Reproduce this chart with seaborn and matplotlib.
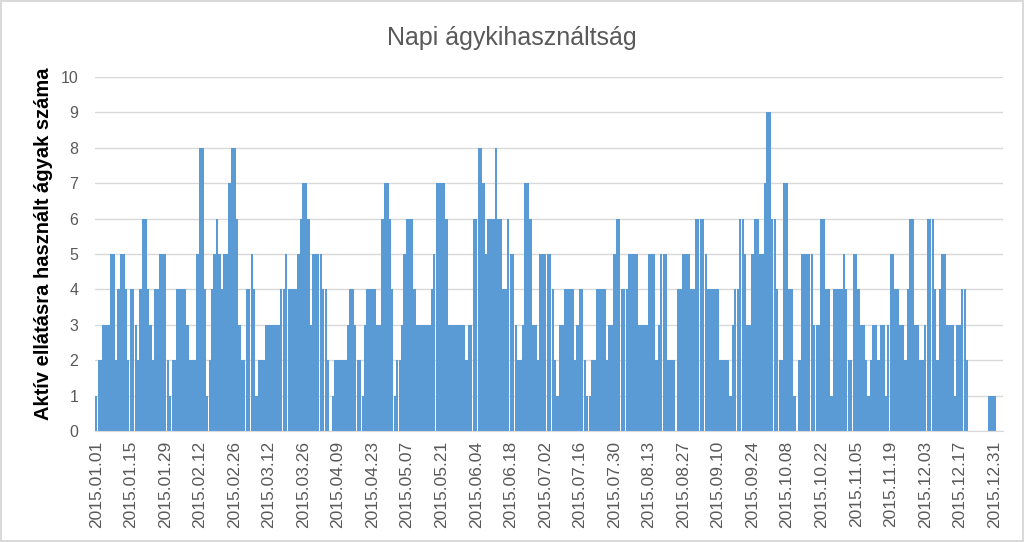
import numpy as np
import pandas as pd
import matplotlib
matplotlib.use("Agg")
import matplotlib.pyplot as plt
import seaborn as sns

# daily number of beds in active care, 2015
jan = [1, 2, 2, 3, 3, 3, 5, 5, 2, 4, 5, 5, 4, 2, 4, 4, 3, 2, 4, 6, 6, 4, 3, 2, 4, 4, 5, 5, 5, 2, 1]
feb = [2, 2, 4, 4, 4, 4, 3, 2, 2, 2, 5, 8, 8, 4, 1, 2, 4, 5, 6, 5, 4, 5, 5, 7, 8, 8, 6, 3]
mar = [2, 2, 4, 4, 5, 4, 1, 2, 2, 2, 3, 3, 3, 3, 3, 3, 4, 4, 5, 4, 4, 4, 4, 5, 6, 7, 7, 6, 3, 5, 5]
apr = [5, 5, 4, 4, 2, 0, 1, 2, 2, 2, 2, 2, 3, 4, 4, 3, 2, 2, 1, 3, 4, 4, 4, 4, 3, 3, 6, 7, 7, 6]
may = [4, 1, 2, 2, 3, 5, 6, 6, 6, 4, 3, 3, 3, 3, 3, 3, 4, 5, 7, 7, 7, 7, 6, 3, 3, 3, 3, 3, 3, 3, 2]
jun = [3, 3, 6, 6, 8, 8, 7, 5, 6, 6, 6, 8, 6, 6, 4, 4, 6, 5, 5, 3, 2, 2, 3, 7, 7, 6, 3, 3, 2, 5]
jul = [5, 5, 5, 5, 4, 2, 1, 3, 3, 4, 4, 4, 4, 2, 3, 4, 4, 2, 1, 1, 2, 2, 4, 4, 4, 4, 2, 3, 3, 5, 6]
aug = [6, 4, 4, 4, 5, 5, 5, 5, 3, 3, 3, 3, 5, 5, 5, 2, 3, 5, 5, 5, 2, 2, 2, 0, 4, 4, 5, 5, 5, 4, 4]
sep = [6, 6, 6, 6, 5, 4, 4, 4, 4, 4, 2, 2, 2, 2, 1, 3, 4, 4, 6, 6, 5, 3, 3, 5, 6, 6, 5, 5, 7, 9]
oct_ = [9, 6, 6, 4, 2, 2, 7, 7, 4, 4, 1, 0, 2, 5, 5, 5, 5, 5, 3, 3, 3, 6, 6, 4, 4, 1, 4, 4, 4, 4, 5]
nov = [4, 2, 2, 5, 5, 4, 3, 3, 2, 1, 2, 3, 3, 2, 3, 3, 1, 3, 5, 5, 4, 4, 3, 3, 2, 4, 6, 6, 3, 3]
dec = [2, 2, 3, 6, 6, 6, 4, 2, 4, 5, 5, 3, 3, 3, 1, 3, 3, 4, 4, 2, 0, 0, 0, 0, 0, 0, 0, 0, 1, 1, 1]

beds = jan + feb + mar + apr + may + jun + jul + aug + sep + oct_ + nov + dec
dates = pd.date_range("2015-01-01", "2015-12-31", freq="D").strftime("%Y.%m.%d")

df = pd.DataFrame({"datum": dates, "agy": beds})

sns.set_style("white")
plt.rcParams["font.family"] = ["Liberation Sans", "DejaVu Sans"]

fig = plt.figure(figsize=(10.24, 5.42), dpi=100)
ax = fig.add_axes([95 / 1024, 1 - 431 / 542, 908 / 1024, 354 / 542])

sns.barplot(data=df, x="datum", y="agy", color="#5B9BD5", saturation=1,
            width=0.95, linewidth=0, ax=ax)

ax.set_ylim(0, 10)
ax.set_xlim(-0.5, 367.5)
ax.set_yticks(range(0, 11))
ax.yaxis.grid(True, color="#d9d9d9", linewidth=1)
ax.set_axisbelow(True)

tick_pos = list(range(0, len(beds), 14))
ax.set_xticks(tick_pos)
ax.set_xticklabels([dates[i] for i in tick_pos], rotation=90)
ax.tick_params(axis="x", length=0, pad=7, labelsize=12.5, labelcolor="#595959")
ax.tick_params(axis="y", length=0, pad=12, labelsize=11.5, labelcolor="#595959")

for s in ["top", "right", "left"]:
    ax.spines[s].set_visible(False)
ax.spines["bottom"].set_color("#d9d9d9")

ax.set_xlabel("")
ax.set_ylabel("Aktív ellátásra használt ágyak száma", fontsize=14.5,
              fontweight="bold", color="black")
ax.yaxis.set_label_coords(-0.046, 0.53)
fig.text(0.5, 0.93, "Napi ágykihasználtság", ha="center", va="center",
         fontsize=18, color="#595959")

fig.patch.set_edgecolor("#d9d9d9")
fig.patch.set_linewidth(1.5)

fig.savefig("out.png", dpi=100, edgecolor=fig.get_edgecolor())
